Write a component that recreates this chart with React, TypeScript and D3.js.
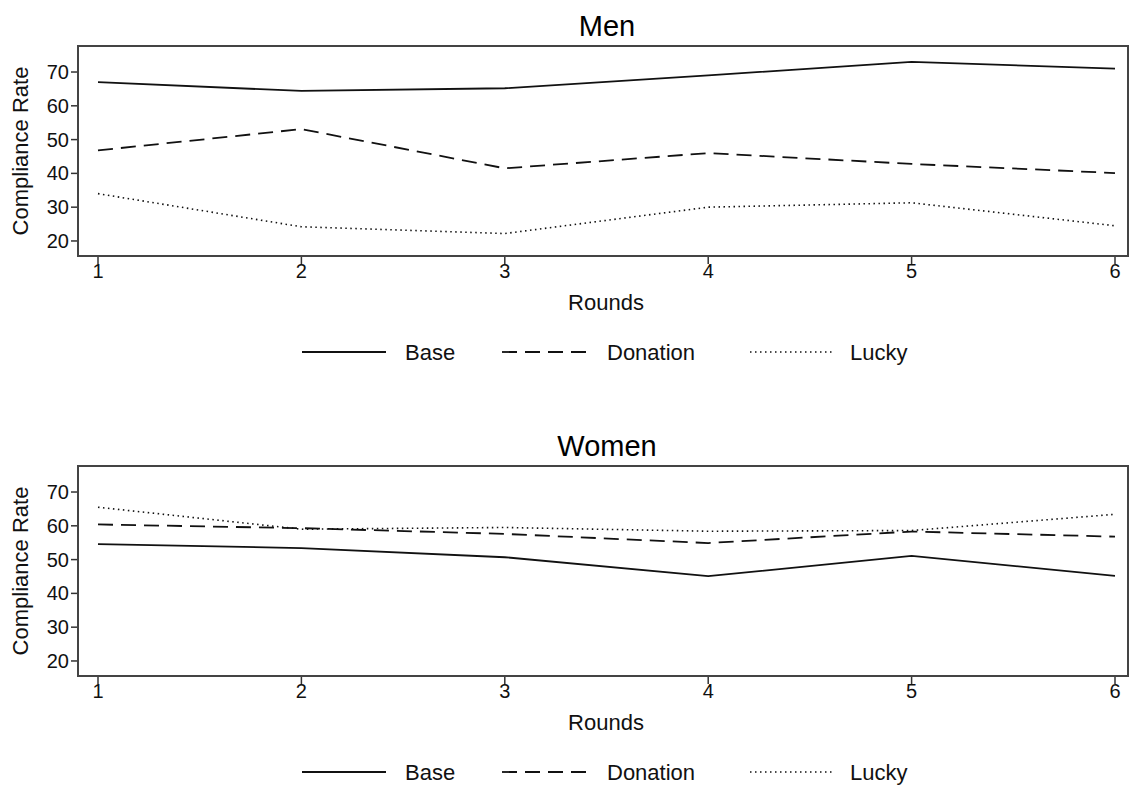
import React from "react";
import * as d3 from "d3";

const rounds = [1, 2, 3, 4, 5, 6];
const yTicks = [20, 30, 40, 50, 60, 70];
const seriesNames = ["Base", "Donation", "Lucky"];

const menBase = [67.0, 64.4, 65.2, 69.0, 73.0, 71.0];
const menDonation = [46.8, 53.1, 41.5, 46.0, 42.8, 40.1];
const menLucky = [34.0, 24.2, 22.2, 30.0, 31.3, 24.5];

const womenBase = [54.6, 53.4, 50.7, 45.1, 51.1, 45.2];
const womenDonation = [60.4, 59.3, 57.6, 54.9, 58.3, 56.8];
const womenLucky = [65.5, 59.0, 59.5, 58.4, 58.6, 63.4];

const dashes = ["none", "15,8", "1.5,3.5"];

const W = 1130, H = 788;
const left = 78, right = 1128;

function Panel({ title, top, data }: { title: string; top: number; data: number[][] }) {
  const bottom = top + 210;
  const x = d3.scaleLinear().domain([1, 6]).range([98, 1115]);
  const y = d3.scaleLinear().domain([15.55, 77.7]).range([bottom, top]);
  const line = d3.line<number>().x((_, i) => x(rounds[i])).y((d) => y(d));
  const legY = bottom + 96;
  const legItems = [
    { x1: 302, x2: 386, tx: 405 },
    { x1: 502, x2: 588, tx: 607 },
    { x1: 750, x2: 832, tx: 850 },
  ];
  return (
    <g>
      <text x={607} y={top - 10} textAnchor="middle" fontSize={29} fill="#000">{title}</text>
      <text transform={`translate(28,${(top + bottom) / 2}) rotate(-90)`} textAnchor="middle" fontSize={22} fill="#111">Compliance Rate</text>
      {yTicks.map((t) => (
        <g key={t}>
          <line x1={left - 7} x2={left} y1={y(t)} y2={y(t)} stroke="#333" strokeWidth={1.5} />
          <text x={left - 9} y={y(t) + 7} textAnchor="end" fontSize={20} fill="#111">{t}</text>
        </g>
      ))}
      {rounds.map((r) => (
        <g key={r}>
          <line x1={x(r)} x2={x(r)} y1={bottom} y2={bottom + 8} stroke="#333" strokeWidth={1.5} />
          <text x={x(r)} y={bottom + 22} textAnchor="middle" fontSize={20} fill="#111">{r}</text>
        </g>
      ))}
      <text x={606} y={bottom + 54} textAnchor="middle" fontSize={22} fill="#111">Rounds</text>
      {data.map((s, i) => (
        <path key={i} d={line(s) || ""} fill="none" stroke="#111" strokeWidth={i === 2 ? 1.6 : 1.8} strokeDasharray={dashes[i]} />
      ))}
      <rect x={left} y={top} width={right - left} height={bottom - top} fill="none" stroke="#444" strokeWidth={2} />
      {legItems.map((l, i) => (
        <g key={i}>
          <line x1={l.x1} x2={l.x2} y1={legY} y2={legY} stroke="#111" strokeWidth={i === 2 ? 1.4 : 1.8} strokeDasharray={dashes[i]} />
          <text x={l.tx} y={legY + 8} fontSize={22} fill="#111">{seriesNames[i]}</text>
        </g>
      ))}
    </g>
  );
}

export default function App() {
  return (
    <svg width={W} height={H} style={{ position: "absolute", left: 0, top: 0, fontFamily: "'Liberation Sans', Arial, sans-serif", background: "#fff" }}>
      <rect width={W} height={H} fill="#fff" />
      <Panel title="Men" top={46} data={[menBase, menDonation, menLucky]} />
      <Panel title="Women" top={466} data={[womenBase, womenDonation, womenLucky]} />
    </svg>
  );
}
